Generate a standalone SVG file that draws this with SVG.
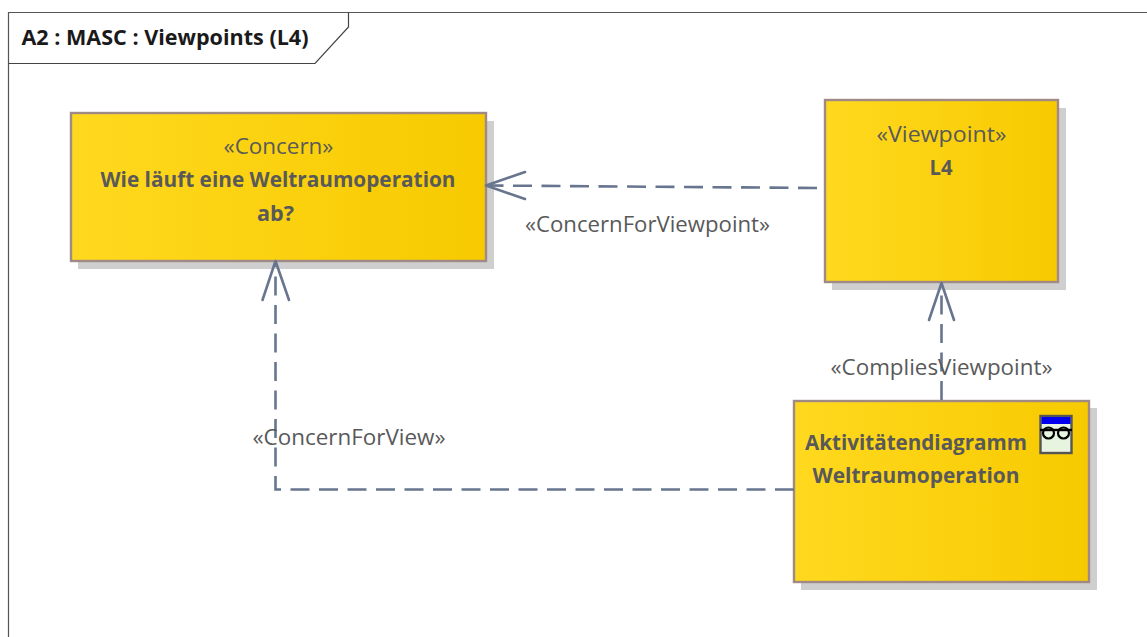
<svg xmlns="http://www.w3.org/2000/svg" width="1147" height="637" viewBox="0 0 1147 637">
<style>
text{font-family:"Open Sans","Liberation Sans",sans-serif;fill:#595959;text-anchor:middle}
.s{font-size:22px}
.b{font-size:22px;font-weight:700}
.n{fill:url(#g);stroke:#a08a85;stroke-width:2.4}
.sh{fill:#cfcfcf}
.c{fill:none;stroke:#68758f;stroke-width:2.6}
.d{stroke-dasharray:19 9.5}
.a{fill:none;stroke:#68758f;stroke-width:2.6;stroke-linecap:round;stroke-linejoin:round}
</style>
<defs><linearGradient id="g" x1="0" y1="0" x2="1" y2="0"><stop offset="0" stop-color="#ffd91f"/><stop offset="1" stop-color="#f7ca00"/></linearGradient></defs>
<rect width="1147" height="637" fill="#fff"/>
<g id="frame">
<path d="M8.500 637V12.500H1147" fill="none" stroke="#555" stroke-width="1.200"/>
<path d="M8.500 63.500H315L348.500 27V12.500" fill="none" stroke="#444" stroke-width="1.200"/>
<text x="165" y="45" style="font-size:22px;font-weight:700;fill:#1a1a1a" textLength="287" lengthAdjust="spacingAndGlyphs">A2 : MASC : Viewpoints (L4)</text>
</g>
<g id="concern">
<rect class="sh" x="78" y="121" width="416" height="148"/>
<rect class="n" x="71" y="113" width="415" height="148"/>
<text class="s" x="278.500" y="154" textLength="110" lengthAdjust="spacingAndGlyphs">«Concern»</text>
<text class="b" x="278" y="187" textLength="355" lengthAdjust="spacingAndGlyphs">Wie läuft eine Weltraumoperation</text>
<text class="b" x="275.500" y="221" textLength="37" lengthAdjust="spacingAndGlyphs">ab?</text>
</g>
<g id="viewpoint">
<rect class="sh" x="832" y="108" width="234" height="182"/>
<rect class="n" x="825" y="100" width="233" height="182"/>
<text class="s" x="941.500" y="142" textLength="130" lengthAdjust="spacingAndGlyphs">«Viewpoint»</text>
<text class="b" x="941" y="175" textLength="23" lengthAdjust="spacingAndGlyphs">L4</text>
</g>
<g id="view">
<rect class="sh" x="801" y="408" width="296" height="182"/>
<rect class="n" x="794" y="401" width="295" height="181"/>
<text class="b" x="916" y="450" textLength="222" lengthAdjust="spacingAndGlyphs">Aktivitätendiagramm</text>
<text class="b" x="916" y="483" textLength="207" lengthAdjust="spacingAndGlyphs">Weltraumoperation</text>
<g id="view-icon">
<rect x="1040.500" y="416" width="31" height="37" fill="#e6f4e0" stroke="#555" stroke-width="2.400"/>
<rect x="1041.500" y="417" width="29" height="7" fill="#0000ee"/>
<path d="M1040 430H1072" stroke="#000" stroke-width="2.400" fill="none"/>
<circle cx="1048.500" cy="433" r="5.500" fill="none" stroke="#000" stroke-width="2.200"/>
<circle cx="1063.500" cy="433" r="5.500" fill="none" stroke="#000" stroke-width="2.200"/>
</g>
</g>
<g id="connectors">
<path class="c d" d="M817 188L490 185.500"/>
<path class="a" d="M525 172L486 185.500L525 199"/>
<path class="c d" d="M941.500 400V286"/>
<path class="a" d="M929 320L941.500 283L954 320"/>
<path class="c d" d="M794 489.500H275.500V264"/>
<path class="a" d="M262.500 300L275.500 261L289 300"/>
</g>
<g id="labels">
<text class="s" x="647.500" y="232" textLength="245" lengthAdjust="spacingAndGlyphs">«ConcernForViewpoint»</text>
<text class="s" x="941.500" y="375" textLength="222" lengthAdjust="spacingAndGlyphs">«CompliesViewpoint»</text>
<text class="s" x="349" y="445" textLength="193" lengthAdjust="spacingAndGlyphs">«ConcernForView»</text>
</g>
</svg>
